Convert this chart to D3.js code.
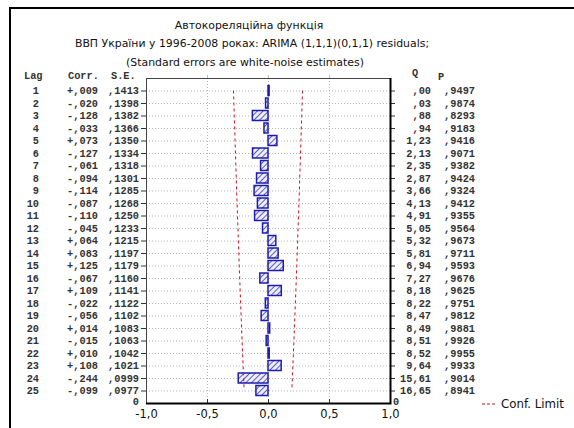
<!DOCTYPE html>
<html>
<head>
<meta charset="utf-8">
<script src="https://cdn.jsdelivr.net/npm/d3@7"></script>
<style>
  body { margin: 0; background: #fff; }
  svg { display: block; }
  .ttl { font-family: "DejaVu Sans", Verdana, sans-serif; font-size: 10.9px; fill: #111; }
  .lab { font-family: "DejaVu Sans", Verdana, sans-serif; font-size: 11.8px; fill: #111; }
  .tbl { font-family: "Liberation Mono", "Courier New", monospace; font-size: 10.3px; fill: #333; font-weight: bold; }
  .ax text { font-family: "DejaVu Sans", Verdana, sans-serif; font-size: 11.5px; fill: #111; }
</style>
</head>
<body>
<script>
const W = 574, H = 428;

const lags = d3.range(1, 26);
const corr = [.009, -.020, -.128, -.033, .073, -.127, -.061, -.094, -.114, -.087, -.110, -.045, .064,
  .083, .125, -.067, .109, -.022, -.056, .014, -.015, .010, .108, -.244, -.099];
const se = [.1413, .1398, .1382, .1366, .1350, .1334, .1318, .1301, .1285, .1268, .1250, .1233, .1215,
  .1197, .1179, .1160, .1141, .1122, .1102, .1083, .1063, .1042, .1021, .0999, .0977];
const qStat = [.00, .03, .88, .94, 1.23, 2.13, 2.35, 2.87, 3.66, 4.13, 4.91, 5.05, 5.32,
  5.81, 6.94, 7.27, 8.18, 8.22, 8.47, 8.49, 8.51, 8.52, 9.64, 15.61, 16.65];
const pVal = [.9497, .9874, .8293, .9183, .9416, .9071, .9382, .9424, .9324, .9412, .9355, .9564, .9673,
  .9711, .9593, .9676, .9625, .9751, .9812, .9881, .9926, .9955, .9933, .9014, .8941];
const xTicks = [-1, -0.5, 0, 0.5, 1];
const titles = [
  'Автокореляційна функція',
  'ВВП України у 1996-2008 роках: ARIMA (1,1,1)(0,1,1) residuals;',
  '(Standard errors are white-noise estimates)'
];

const m = {left: 146, right: 390, top: 78, bottom: 403};

const svg = d3.select('body').append('svg')
  .attr('width', W)
  .attr('height', H);

// outer frame (only top and left edges visible)
svg.append('path')
  .attr('d', `M10,${H} L10,8 L${W},8`)
  .attr('fill', 'none')
  .attr('stroke', '#000')
  .attr('stroke-width', 2);

const x = d3.scaleLinear().domain([-1, 1]).range([m.left, m.right]);
const y = d3.scaleLinear().domain([0, 26]).range([m.top, m.bottom]);

const comma = s => s.replace('.', ',');
const fmtCorr = v => (v < 0 ? '-' : '+') + comma(d3.format('.3f')(Math.abs(v))).replace(/^0/, '');
const fmtSe = v => comma(d3.format('.4f')(v)).replace(/^0/, '');
const fmtQ = v => comma(d3.format('.2f')(v)).replace(/^0(?=,)/, '');
const fmtX = v => (v < 0 ? '-' : '') + comma(d3.format('.1f')(Math.abs(v)));

// titles
svg.selectAll('text.ttl')
  .data(titles)
  .join('text')
    .attr('class', 'ttl')
    .attr('x', (d, i) => [249, 252, 245][i])
    .attr('y', (d, i) => [29, 47, 66][i])
    .attr('text-anchor', 'middle')
    .text(d => d);

// hatch pattern
const defs = svg.append('defs');
const pat = defs.append('pattern')
  .attr('id', 'hatch')
  .attr('patternUnits', 'userSpaceOnUse')
  .attr('width', 4)
  .attr('height', 4)
  .attr('patternTransform', 'rotate(45)');
pat.append('rect').attr('width', 4).attr('height', 4).attr('fill', '#eeeefa');
pat.append('line')
  .attr('x1', 0).attr('y1', 0).attr('x2', 0).attr('y2', 4)
  .attr('stroke', '#2b2bb8')
  .attr('stroke-width', 1.5);

// grid
const grid = svg.append('g');
grid.selectAll('line.h')
  .data(lags)
  .join('line')
    .attr('x1', m.left).attr('x2', m.right)
    .attr('y1', d => y(d) + 0.5).attr('y2', d => y(d) + 0.5)
    .attr('stroke', '#b4b4b4')
    .attr('stroke-dasharray', '1,2');
grid.selectAll('line.v')
  .data(xTicks.slice(1, -1))
  .join('line')
    .attr('x1', d => x(d) + 0.5).attr('x2', d => x(d) + 0.5)
    .attr('y1', m.top).attr('y2', m.bottom)
    .attr('stroke', '#b4b4b4')
    .attr('stroke-dasharray', '1,2');

// bars
const rows = lags.map((l, i) => ({lag: l, corr: corr[i], se: se[i], q: qStat[i], p: pVal[i]}));
const bh = 10;
svg.append('g')
  .selectAll('rect')
  .data(rows)
  .join('rect')
    .attr('x', d => Math.min(x(0), x(d.corr)))
    .attr('y', d => y(d.lag) - bh / 2)
    .attr('width', d => Math.max(1, Math.abs(x(d.corr) - x(0))))
    .attr('height', bh)
    .attr('fill', 'url(#hatch)')
    .attr('stroke', '#1c1cb0')
    .attr('stroke-width', 1.5);

// confidence limits
const line = d3.line().x(d => x(d[0])).y(d => y(d[1]));
[-2, 2].forEach(k => {
  svg.append('path')
    .attr('d', line(rows.map(d => [k * d.se, d.lag])))
    .attr('fill', 'none')
    .attr('stroke', '#d01020')
    .attr('stroke-width', 1)
    .attr('stroke-dasharray', '3,3');
});

// axes
const ax = svg.append('g').attr('class', 'ax');
ax.append('g')
  .attr('transform', `translate(${m.left},0)`)
  .call(d3.axisLeft(y).tickValues(lags).tickSize(5).tickFormat(''))
  .call(g => g.select('.domain').remove())
  .call(g => g.selectAll('line').attr('stroke', '#333'));
ax.append('g')
  .attr('transform', `translate(${m.right},0)`)
  .call(d3.axisRight(y).tickValues(lags).tickSize(5).tickFormat(''))
  .call(g => g.select('.domain').remove())
  .call(g => g.selectAll('line').attr('stroke', '#333'));
ax.append('g')
  .attr('transform', `translate(0,${m.bottom})`)
  .call(d3.axisBottom(x).tickValues(xTicks).tickSize(-4).tickPadding(7).tickFormat(fmtX))
  .call(g => g.select('.domain').remove())
  .call(g => g.selectAll('line').attr('stroke', '#333'));
ax.append('g')
  .attr('transform', `translate(0,${m.top})`)
  .call(d3.axisTop(x).tickValues(xTicks.slice(1, -1)).tickSize(3).tickFormat(''))
  .call(g => g.select('.domain').remove())
  .call(g => g.selectAll('line').attr('stroke', '#bbb'));

// plot frame
svg.append('rect')
  .attr('x', m.left + 0.5).attr('y', m.top + 0.5)
  .attr('width', m.right - m.left).attr('height', m.bottom - m.top)
  .attr('fill', 'none')
  .attr('stroke', '#444');
svg.append('path')
  .attr('d', `M${m.left},${m.bottom + 0.5} L${m.right + 0.5},${m.bottom + 0.5} L${m.right + 0.5},${m.top}`)
  .attr('fill', 'none')
  .attr('stroke', '#000')
  .attr('stroke-width', 2);

// table
const tbl = svg.append('g').attr('class', 'tbl');
const headers = [
  {t: 'Lag', x: 24, y: 79},
  {t: 'Corr.', x: 68, y: 79},
  {t: 'S.E.', x: 111, y: 79},
  {t: 'Q', x: 412, y: 76},
  {t: 'P', x: 438, y: 80}
];
tbl.selectAll('text.hd')
  .data(headers)
  .join('text')
    .attr('class', 'tbl')
    .attr('x', d => d.x).attr('y', d => d.y)
    .text(d => d.t);

const cols = [
  {x: 39, f: d => d.lag},
  {x: 98, f: d => fmtCorr(d.corr)},
  {x: 139, f: d => fmtSe(d.se)},
  {x: 431, f: d => fmtQ(d.q)},
  {x: 475, f: d => fmtSe(d.p)}
];
cols.forEach(c => {
  tbl.append('g')
    .selectAll('text')
    .data(rows)
    .join('text')
      .attr('class', 'tbl')
      .attr('x', c.x)
      .attr('y', d => y(d.lag) + 3.5)
      .attr('text-anchor', 'end')
      .text(c.f);
});
tbl.append('text').attr('class', 'tbl').attr('x', 139).attr('y', y(26) + 2)
  .attr('text-anchor', 'end').text('0');
tbl.append('text').attr('class', 'tbl').attr('x', 393).attr('y', y(26) + 2)
  .attr('text-anchor', 'start').text('0');

// legend
const lg = svg.append('g').attr('transform', 'translate(482,404)');
lg.append('line')
  .attr('x1', 0).attr('x2', 14).attr('y1', 0).attr('y2', 0)
  .attr('stroke', '#d01020')
  .attr('stroke-dasharray', '3,2');
lg.append('text')
  .attr('class', 'lab')
  .attr('x', 19).attr('y', 4)
  .text('Conf. Limit');
</script>
</body>
</html>
